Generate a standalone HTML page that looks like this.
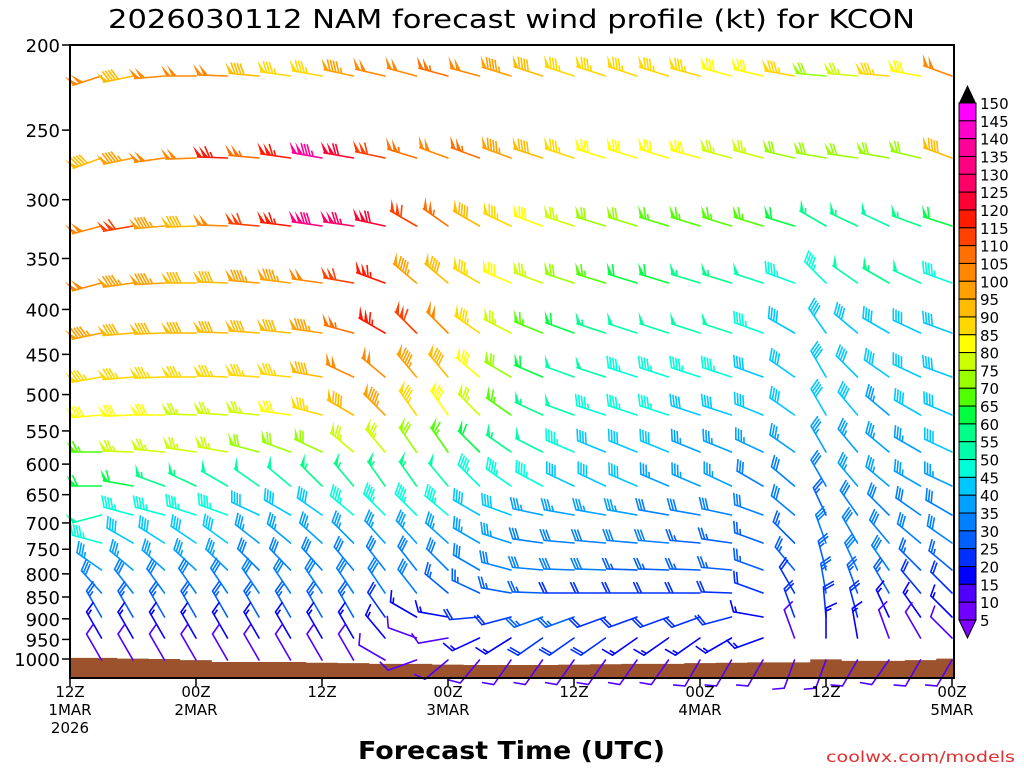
<!DOCTYPE html>
<html><head><meta charset="utf-8"><style>
html,body{margin:0;padding:0;background:#fff;}
svg{display:block;font-family:"DejaVu Sans","Liberation Sans",sans-serif;}
</style></head><body>
<svg id="chart" width="1024" height="768" viewBox="0 0 1024 768" xmlns="http://www.w3.org/2000/svg">
<rect width="1024" height="768" fill="#fff"/>
<text x="108" y="28" textLength="807" lengthAdjust="spacingAndGlyphs" font-size="26" fill="#000">2026030112 NAM forecast wind profile (kt) for KCON</text>
<g id="terrain"></g>
<g id="barbs"></g>
<g id="axes"></g>
<g id="cbar"></g>
<text x="358" y="759" textLength="307" lengthAdjust="spacingAndGlyphs" font-size="25" font-weight="bold" fill="#000">Forecast Time (UTC)</text>
<text x="826" y="762" textLength="189" lengthAdjust="spacingAndGlyphs" font-size="15" fill="#e03030">coolwx.com/models</text>
</svg>
<script>
const levels=[250,300,350,400,450,500,550,600,650,700,750,800,850,900,950,1000];
const stationY=[76,158,226,283,333,377,415,452,486,515,543,570,593,617,638,660];
const yTicks=[200,250,300,350,400,450,500,550,600,650,700,750,800,850,900,950,1000];
const xTickLabels=[["12Z","1MAR","2026"],["00Z","2MAR"],["12Z",""],["00Z","3MAR"],["12Z",""],["00Z","4MAR"],["12Z",""],["00Z","5MAR"]];
const cbLabels=[150,145,140,135,130,125,120,115,110,105,100,95,90,85,80,75,70,65,60,55,50,45,40,35,30,25,20,15,10,5];
const cbColors=['#7000ff','#5000ff','#0000ff','#0030ff','#0060ff','#0080ff','#00a0ff','#00c8ff','#00ffd8','#00ffaa','#00ff88','#00ff40','#50ff00','#99ff00','#ccff00','#ffff00','#ffd800','#ffbb00','#ffa000','#ff8800','#ff7000','#ff4000','#ff1a00','#ff0033','#ff0066','#ff0080','#ff0099','#ff00cc','#ff00ff'];
const surfP=[997,997,999,1000,1003,1008,1008,1008,1010,1011,1013,1013,1015,1016,1016,1016,1015,1014,1013,1013,1011,1010,1009,1009,1001,1005,1005,1003,999];
const speed=[
[100,90,100,100,100,90,85,85,95,100,100,105,100,95,90,85,85,85,85,85,80,80,85,70,75,85,80,100],
[90,95,100,100,115,105,115,135,120,110,105,100,105,95,90,85,80,80,80,80,75,75,70,70,70,70,70,90],
[100,110,95,90,100,110,115,130,125,120,110,105,90,85,80,75,70,70,65,65,65,65,60,55,55,50,55,60],
[100,95,95,90,90,95,95,100,110,115,95,90,85,80,75,70,65,60,60,55,55,50,45,45,50,55,50,45],
[95,90,90,90,90,90,90,95,105,115,110,100,85,75,65,60,55,50,50,50,50,45,40,40,40,40,40,40],
[85,85,85,85,85,85,85,90,100,100,95,90,80,70,60,50,50,45,45,45,45,40,40,40,40,40,40,40],
[80,80,80,75,75,75,80,85,90,95,85,80,75,65,55,50,45,45,45,40,40,40,40,40,40,35,40,40],
[65,75,75,75,75,70,70,70,75,75,70,65,60,55,50,45,40,40,40,35,35,35,35,35,35,35,35,40],
[60,60,55,55,50,50,50,55,55,55,55,50,45,45,45,40,40,40,35,35,35,30,30,30,35,35,35,35],
[50,45,45,45,45,40,40,40,45,45,45,45,40,40,35,35,35,35,30,30,30,30,30,25,30,30,30,30],
[45,40,40,40,40,35,35,35,35,35,35,35,35,35,30,30,30,30,30,25,25,25,25,30,30,30,30,30],
[35,35,35,35,35,30,30,30,30,30,30,30,30,30,30,30,30,25,25,25,25,25,25,25,30,30,25,25],
[30,30,30,30,30,30,30,30,30,30,30,25,25,25,25,20,20,20,20,20,20,20,20,25,25,25,20,20],
[25,25,25,25,25,25,25,25,25,20,15,15,20,20,25,25,20,20,20,20,20,15,20,20,20,15,15,15],
[15,15,15,15,15,15,15,15,15,15,10,10,15,15,20,20,20,15,15,15,15,15,10,15,15,10,10,10],
[10,10,10,10,10,10,10,10,10,10,10,10,10,10,10,10,10,10,10,10,10,10,10,10,10,10,10,10]];
const direction=[
[252,258,265,270,272,275,278,280,282,283,285,285,285,287,288,288,288,288,287,285,285,283,280,275,275,275,280,290],
[250,258,262,268,272,275,278,280,280,282,287,290,290,290,288,288,287,287,287,285,285,285,283,280,278,280,283,290],
[255,260,265,268,272,275,277,278,278,282,300,305,300,295,290,288,287,287,287,287,287,287,287,300,295,295,290,288],
[255,262,267,270,272,275,277,278,280,290,310,310,300,293,290,288,287,287,287,287,287,288,290,315,305,300,295,290],
[258,265,268,270,272,274,276,278,285,300,315,315,305,297,292,290,288,288,288,288,288,290,300,325,310,300,295,290],
[260,265,268,270,272,274,276,280,295,310,320,320,310,300,293,290,288,288,288,288,288,290,305,330,315,305,295,290],
[265,268,270,272,274,276,278,285,300,315,325,325,315,305,295,290,288,288,288,288,288,292,305,330,320,310,300,293],
[270,272,275,278,280,285,290,295,310,320,325,325,315,305,297,293,292,292,292,292,292,295,305,330,320,310,300,295],
[270,280,290,295,300,305,310,315,320,325,325,320,315,305,298,295,295,293,293,293,295,300,310,330,320,310,300,295],
[255,285,285,288,290,295,300,305,310,315,315,310,300,290,282,280,280,280,280,280,282,290,310,335,325,315,305,300],
[285,300,302,304,306,308,310,312,315,318,318,312,300,288,278,275,275,275,275,275,278,290,315,340,330,320,310,305],
[305,310,312,313,314,315,316,318,320,322,322,315,300,285,275,272,272,272,272,272,275,290,320,345,335,325,315,310],
[318,322,324,325,326,326,326,326,326,326,322,310,295,280,272,270,270,270,270,270,272,290,330,350,340,330,320,315],
[330,330,330,330,330,330,330,330,330,325,300,280,265,255,250,250,250,250,250,250,255,280,340,355,345,335,325,315],
[330,330,330,330,330,330,330,330,330,320,290,260,245,238,235,235,235,235,235,235,240,250,340,0,350,340,330,315],
[330,330,330,330,330,330,330,330,330,300,250,230,220,215,215,215,215,215,215,210,210,210,200,200,210,215,210,210]];

const NS='http://www.w3.org/2000/svg';
const X0=70,X1=954,Y0=45,Y1=678;
const stepPx=(X1-X0-2)/28;
function xScale(i){return X0+stepPx*i;}
function yScale(p){return Y0+381.5*Math.log(p/200);}
function mk(tag,attrs,parent){const e=document.createElementNS(NS,tag);for(const k in attrs)e.setAttribute(k,attrs[k]);parent.appendChild(e);return e;}
function colorFor(s){let i=Math.floor(s/5)-1;if(i<0)i=0;if(i>28)i=28;return cbColors[i];}

const tg=document.getElementById('terrain');
let d='M'+X0+','+Y1;
for(let i=0;i<surfP.length;i++){
  const xa=Math.max(X0,xScale(i)-stepPx/2),xb=Math.min(X1,xScale(i)+stepPx/2);
  const yy=yScale(surfP[i]);
  d+=' L'+xa+','+yy+' L'+xb+','+yy;
}
d+=' L'+X1+','+Y1+' Z';
const terr=mk('path',{d:d,fill:'#9c522c'},tg);



const bg=document.getElementById('barbs');
const LEAN=25*Math.PI/180;
function drawBarb(sx,sy,spd,dir,name){
  const g=mk('g',{},bg);
  
  
  const col=colorFor(spd);
  const r=dir*Math.PI/180;
  const ux=Math.sin(r),uy=-Math.cos(r);
  const qx=-uy,qy=ux;
  const px=Math.cos(LEAN)*qx+Math.sin(LEAN)*ux, py=Math.cos(LEAN)*qy+Math.sin(LEAN)*uy;
  const L=30,F=12;
  const ex=sx+L*ux,ey=sy+L*uy;
  mk('line',{x1:sx,y1:sy,x2:ex,y2:ey,stroke:col,'stroke-width':1.6,'stroke-linecap':'round'},g);
  let s=Math.round(spd/5)*5;
  const pen=Math.floor(s/50);s-=pen*50;
  const full=Math.floor(s/10);s-=full*10;
  const half=s>=5?1:0;
  let t=0;
  const P=(tt)=>[ex-tt*ux,ey-tt*uy];
  for(let k=0;k<pen;k++){
    const a=P(t),b=P(t+5);
    mk('polygon',{points:a[0]+','+a[1]+' '+(a[0]+F*px)+','+(a[1]+F*py)+' '+b[0]+','+b[1],fill:col},g);
    t+=6;
  }
  if(pen===0&&full===0&&half===1)t=3;
  for(let k=0;k<full;k++){
    const a=P(t);
    mk('line',{x1:a[0],y1:a[1],x2:a[0]+F*px,y2:a[1]+F*py,stroke:col,'stroke-width':1.6},g);
    t+=3;
  }
  if(half){
    const a=P(t);
    mk('line',{x1:a[0],y1:a[1],x2:a[0]+F*0.5*px,y2:a[1]+F*0.5*py,stroke:col,'stroke-width':1.6},g);
  }
}
for(let li=0;li<levels.length;li++){
  for(let c=0;c<speed[li].length;c++){
    drawBarb(xScale(c+1),stationY[li],speed[li][c],direction[li][c],'wind-barb-'+levels[li]+'-t'+(c+1));
  }
}

const ag=document.getElementById('axes');
const frame=mk('rect',{x:X0,y:Y0,width:X1-X0,height:Y1-Y0,fill:'none',stroke:'#000','stroke-width':2},ag);


yTicks.forEach(p=>{
  const y=yScale(p);
  const tk=mk('line',{x1:X0-8,y1:y,x2:X0,y2:y,stroke:'#000','stroke-width':1.5},ag);
  
  
  const tx=mk('text',{x:X0-10,y:y+7,'text-anchor':'end','font-size':18,fill:'#000'},ag);
  
  
  tx.textContent=p;
});
xTickLabels.forEach((lab,i)=>{
  const x=xScale(i*4);
  const tk=mk('line',{x1:x,y1:Y1,x2:x,y2:Y1+8,stroke:'#000','stroke-width':1.5},ag);
  
  
  lab.forEach((s,j)=>{
    if(!s)return;
    const tx=mk('text',{x:x,y:Y1+19+j*18,'text-anchor':'middle','font-size':15,fill:'#000'},ag);
    
    
    tx.textContent=s;
  });
});

const cg=document.getElementById('cbar');
const cbX=959,cbW=17,cbTop=103,cbBot=620;
for(let k=0;k<29;k++){
  const i=28-k;
  const y=cbTop+k*(cbBot-cbTop)/29;
  const h=(cbBot-cbTop)/29;
  const r=mk('rect',{x:cbX,y:y,width:cbW,height:h,fill:cbColors[i],stroke:'#000','stroke-width':1},cg);
  
  
}
const tri1=mk('polygon',{points:cbX+','+cbTop+' '+(cbX+cbW)+','+cbTop+' '+(cbX+cbW/2)+','+(cbTop-18),fill:'#000'},cg);


const tri2=mk('polygon',{points:cbX+','+cbBot+' '+(cbX+cbW)+','+cbBot+' '+(cbX+cbW/2)+','+(cbBot+18),fill:'#8000ff',stroke:'#000','stroke-width':1},cg);


cbLabels.forEach((v,k)=>{
  const y=cbTop+k*(cbBot-cbTop)/29;
  const tx=mk('text',{x:cbX+cbW+4,y:y+6,'font-size':15,fill:'#000'},cg);
  
  
  tx.textContent=v;
});
</script>
</body></html>
